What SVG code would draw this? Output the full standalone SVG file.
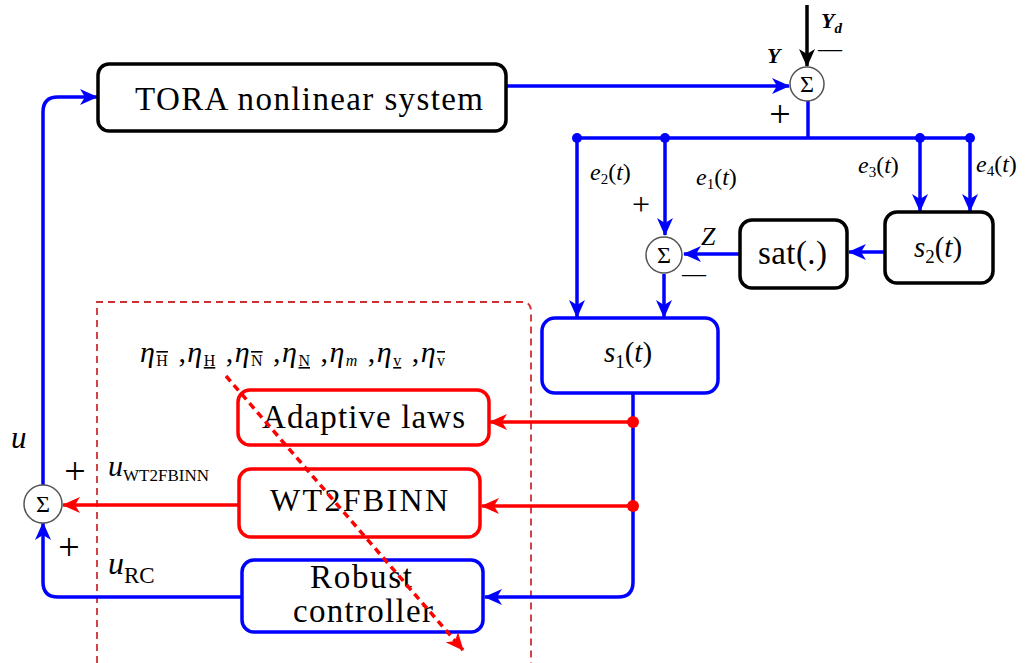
<svg xmlns="http://www.w3.org/2000/svg" width="1029" height="663" viewBox="0 0 1029 663">
<style>
text, tspan{font-family:'Liberation Serif', serif}
.box{fill:#fff;stroke-width:3.5}
.bk{stroke:#000}.bl{stroke:#0000ff}.rd{stroke:#ff0000}
.sum{fill:#fff;stroke:#555;stroke-width:1.5}
.wb{fill:none;stroke:#0000ff;stroke-width:3.5}
.wr{fill:none;stroke:#ff0000;stroke-width:3.5}
.it{font-style:italic}
</style>
<defs>
<marker id="ab" markerUnits="userSpaceOnUse" markerWidth="18" markerHeight="16" refX="17" refY="8" orient="auto"><path d="M0,0 L18,8 L0,16 L5,8 z" fill="#0000ff"/></marker>
<marker id="ar" markerUnits="userSpaceOnUse" markerWidth="18" markerHeight="16" refX="17" refY="8" orient="auto"><path d="M0,0 L18,8 L0,16 L5,8 z" fill="#ff0000"/></marker>
<marker id="ak" markerUnits="userSpaceOnUse" markerWidth="18" markerHeight="16" refX="17" refY="8" orient="auto"><path d="M0,0 L18,8 L0,16 L5,8 z" fill="#000"/></marker>
</defs>
<rect width="1029" height="663" fill="#fff"/>

<path d="M97,663 L97,302 L522,302 Q531,302 531,311 L531,663" fill="none" stroke="#d03030" stroke-width="1.8" stroke-dasharray="7,5"/>

<g id="connectors">
  <path class="wb" d="M506,86 L789,86" marker-end="url(#ab)"/>
  <path d="M807,5 L807,66" fill="none" stroke="#000" stroke-width="3.5" marker-end="url(#ak)"/>
  <path class="wb" d="M808,101 L808,138"/>
  <path class="wb" d="M577,138 L970,138"/>
  <circle cx="577" cy="138" r="5" fill="#0000ff"/>
  <circle cx="665" cy="138" r="5" fill="#0000ff"/>
  <circle cx="920" cy="138" r="5" fill="#0000ff"/>
  <circle cx="970" cy="138" r="5" fill="#0000ff"/>
  <path class="wb" d="M577,138 L577,317" marker-end="url(#ab)"/>
  <path class="wb" d="M665,138 L665,235" marker-end="url(#ab)"/>
  <path class="wb" d="M920,138 L920,211" marker-end="url(#ab)"/>
  <path class="wb" d="M970,138 L970,211" marker-end="url(#ab)"/>
  <path class="wb" d="M885,252 L849,252" marker-end="url(#ab)"/>
  <path class="wb" d="M740,254 L684,254" marker-end="url(#ab)"/>
  <path class="wb" d="M664,274 L664,317" marker-end="url(#ab)"/>
  <path class="wb" d="M633,393 L633,582 Q633,597 618,597 L485,597" marker-end="url(#ab)"/>
  <path class="wr" d="M633,422 L490,422" marker-end="url(#ar)"/>
  <path class="wr" d="M633,506 L482,506" marker-end="url(#ar)"/>
  <circle cx="633" cy="422" r="6" fill="#ff0000"/>
  <circle cx="633" cy="506" r="6" fill="#ff0000"/>
  <path class="wb" d="M242,597 L58,597 Q43,597 43,582 L43,523" marker-end="url(#ab)"/>
  <path class="wr" d="M239,505 L63,505" marker-end="url(#ar)"/>
  <path class="wb" d="M43,485 L43,112 Q43,97 58,97 L97,97" marker-end="url(#ab)"/>
</g>

<g id="tora">
  <rect class="box bk" x="98" y="64" width="408" height="67" rx="11"/>
  <text font-family="Liberation Serif" font-size="33" x="135" y="110" textLength="348" lengthAdjust="spacing">TORA nonlinear system</text>
</g>

<g id="sum-top">
  <circle class="sum" cx="807" cy="84" r="17"/>
  <text font-family="Liberation Serif" font-size="24" x="807" y="92" text-anchor="middle">Σ</text>
  <text font-family="Liberation Serif" x="767" y="63" font-size="22" font-weight="bold" font-style="italic">Y</text>
  <text font-family="Liberation Serif" x="821" y="28" font-size="22" font-weight="bold" font-style="italic">Y<tspan font-size="15" dy="5">d</tspan></text>
  <text font-family="Liberation Serif" x="818" y="56" font-size="24">—</text>
  <text font-family="Liberation Serif" x="780" y="127" font-size="38" text-anchor="middle">+</text>
</g>

<g id="sum-mid">
  <circle class="sum" cx="664" cy="255" r="18"/>
  <text font-family="Liberation Serif" font-size="24" x="664" y="263" text-anchor="middle">Σ</text>
  <text font-family="Liberation Serif" x="641" y="215" font-size="32" text-anchor="middle">+</text>
  <text font-family="Liberation Serif" x="682" y="281" font-size="24">—</text>
  <text font-family="Liberation Serif" x="701" y="245" font-size="26" font-style="italic">Z</text>
</g>

<g id="sum-left">
  <circle class="sum" cx="43" cy="504" r="19"/>
  <text font-family="Liberation Serif" font-size="24" x="43" y="512" text-anchor="middle">Σ</text>
  <text font-family="Liberation Serif" x="11" y="448" font-size="31" font-style="italic">u</text>
  <text font-family="Liberation Serif" x="75" y="484" font-size="38" text-anchor="middle">+</text>
  <text font-family="Liberation Serif" x="69" y="560" font-size="38" text-anchor="middle">+</text>
  <text font-family="Liberation Serif" x="108" y="476" font-size="30" font-style="italic">u<tspan font-size="17" font-style="normal" dy="5">WT2FBINN</tspan></text>
  <text font-family="Liberation Serif" x="108" y="574" font-size="32" font-style="italic">u<tspan font-size="23" font-style="normal" dy="9">RC</tspan></text>
</g>

<g id="elabels">
  <text font-family="Liberation Serif" font-size="24" x="590" y="180"><tspan class="it">e</tspan><tspan font-size="15" dy="4">2</tspan><tspan dy="-4">(</tspan><tspan class="it">t</tspan>)</text>
  <text font-family="Liberation Serif" font-size="24" x="696" y="185"><tspan class="it">e</tspan><tspan font-size="15" dy="4">1</tspan><tspan dy="-4">(</tspan><tspan class="it">t</tspan>)</text>
  <text font-family="Liberation Serif" font-size="24" x="858" y="173"><tspan class="it">e</tspan><tspan font-size="15" dy="4">3</tspan><tspan dy="-4">(</tspan><tspan class="it">t</tspan>)</text>
  <text font-family="Liberation Serif" font-size="24" x="976" y="172"><tspan class="it">e</tspan><tspan font-size="15" dy="4">4</tspan><tspan dy="-4">(</tspan><tspan class="it">t</tspan>)</text>
</g>

<g id="s2">
  <rect class="box bk" x="885" y="212" width="108" height="71" rx="12"/>
  <text font-family="Liberation Serif" x="938" y="257" text-anchor="middle" font-size="29"><tspan class="it">s</tspan><tspan font-size="19" dy="6">2</tspan><tspan dy="-6">(</tspan><tspan class="it">t</tspan>)</text>
</g>

<g id="sat">
  <rect class="box bk" x="740" y="220" width="107" height="68" rx="12"/>
  <text font-family="Liberation Serif" font-size="33" x="758" y="264" textLength="69" lengthAdjust="spacing">sat(.)</text>
</g>

<g id="s1">
  <rect class="box bl" x="542" y="318" width="176" height="75" rx="13"/>
  <text font-family="Liberation Serif" x="628" y="362" text-anchor="middle" font-size="29"><tspan class="it">s</tspan><tspan font-size="19" dy="6">1</tspan><tspan dy="-6">(</tspan><tspan class="it">t</tspan>)</text>
</g>

<g id="etas">
  <text font-family="Liberation Serif" x="140" y="362" font-size="30" textLength="305" lengthAdjust="spacing"><tspan class="it">η</tspan><tspan font-size="16" dy="4" text-decoration="overline">H</tspan><tspan dy="-4"> ,</tspan><tspan class="it">η</tspan><tspan font-size="16" dy="4" text-decoration="underline">H</tspan><tspan dy="-4"> ,</tspan><tspan class="it">η</tspan><tspan font-size="16" dy="4" text-decoration="overline">N</tspan><tspan dy="-4"> ,</tspan><tspan class="it">η</tspan><tspan font-size="16" dy="4" text-decoration="underline">N</tspan><tspan dy="-4"> ,</tspan><tspan class="it">η</tspan><tspan font-size="16" dy="4" class="it">m</tspan><tspan dy="-4"> ,</tspan><tspan class="it">η</tspan><tspan font-size="16" dy="4" text-decoration="underline">v</tspan><tspan dy="-4"> ,</tspan><tspan class="it">η</tspan><tspan font-size="16" dy="4" text-decoration="overline">v</tspan></text>
</g>

<g id="adaptive">
  <rect class="box rd" x="238" y="390" width="251" height="55" rx="12"/>
  <text font-family="Liberation Serif" font-size="33" x="262" y="428" textLength="203" lengthAdjust="spacing">Adaptive laws</text>
</g>

<g id="wt2fbinn">
  <rect class="box rd" x="239" y="469" width="241" height="68" rx="12"/>
  <text font-family="Liberation Serif" font-size="32" x="270" y="511" textLength="178" lengthAdjust="spacing">WT2FBINN</text>
</g>

<g id="robust">
  <rect class="box bl" x="242" y="560" width="241" height="72" rx="12"/>
  <text font-family="Liberation Serif" font-size="33" x="310" y="588" textLength="102" lengthAdjust="spacing">Robust</text>
  <text font-family="Liberation Serif" font-size="33" x="293" y="622" textLength="140" lengthAdjust="spacing">controller</text>
</g>

<g id="dotted-arrow">
  <path d="M226,376 L463,650" fill="none" stroke="#ff0000" stroke-width="3.5" stroke-dasharray="7,5" marker-end="url(#ar)"/>
</g>
</svg>
